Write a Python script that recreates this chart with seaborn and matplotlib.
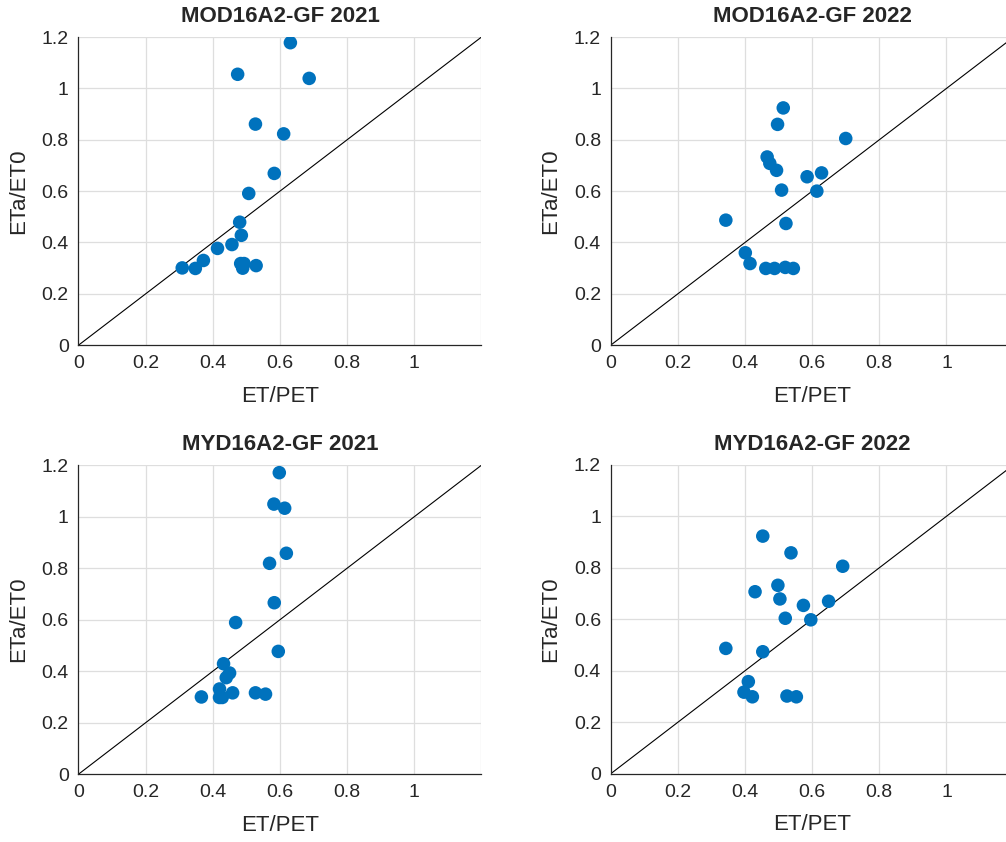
import matplotlib
matplotlib.use("Agg")
import matplotlib.pyplot as plt
import seaborn as sns
import pandas as pd

# MOD16A2-GF 2021
mod21_x = [0.631, 0.474, 0.687, 0.527, 0.611, 0.583, 0.507, 0.480, 0.485, 0.457,
           0.414, 0.372, 0.348, 0.309, 0.483, 0.493, 0.489, 0.529]
mod21_y = [1.178, 1.055, 1.039, 0.861, 0.823, 0.669, 0.591, 0.479, 0.428, 0.392,
           0.377, 0.330, 0.299, 0.301, 0.318, 0.318, 0.300, 0.310]

# MOD16A2-GF 2022
mod22_x = [0.514, 0.497, 0.700, 0.466, 0.474, 0.494, 0.585, 0.628, 0.614, 0.509,
           0.343, 0.522, 0.401, 0.415, 0.462, 0.488, 0.520, 0.544]
mod22_y = [0.924, 0.860, 0.805, 0.733, 0.708, 0.681, 0.656, 0.671, 0.600, 0.604,
           0.487, 0.474, 0.360, 0.318, 0.299, 0.299, 0.303, 0.299]

# MYD16A2-GF 2021
myd21_x = [0.598, 0.582, 0.614, 0.619, 0.569, 0.583, 0.468, 0.595, 0.432, 0.450,
           0.440, 0.420, 0.459, 0.366, 0.420, 0.428, 0.527, 0.557]
myd21_y = [1.171, 1.049, 1.033, 0.858, 0.819, 0.666, 0.589, 0.477, 0.429, 0.393,
           0.375, 0.331, 0.316, 0.300, 0.298, 0.298, 0.316, 0.311]

# MYD16A2-GF 2022
myd22_x = [0.453, 0.537, 0.691, 0.430, 0.498, 0.504, 0.574, 0.649, 0.520, 0.596,
           0.343, 0.453, 0.410, 0.397, 0.422, 0.525, 0.553]
myd22_y = [0.923, 0.858, 0.806, 0.707, 0.732, 0.679, 0.654, 0.670, 0.604, 0.598,
           0.487, 0.474, 0.358, 0.317, 0.299, 0.302, 0.299]

titles = ["MOD16A2-GF 2021", "MOD16A2-GF 2022", "MYD16A2-GF 2021", "MYD16A2-GF 2022"]
xs = [mod21_x, mod22_x, myd21_x, myd22_x]
ys = [mod21_y, mod22_y, myd21_y, myd22_y]

x_ticks = [0, 0.2, 0.4, 0.6, 0.8, 1]
x_tick_labels = ["0", "0.2", "0.4", "0.6", "0.8", "1"]
y_ticks = [0, 0.2, 0.4, 0.6, 0.8, 1, 1.2]
y_tick_labels = ["0", "0.2", "0.4", "0.6", "0.8", "1", "1.2"]

sns.set_style("white")
plt.rcParams['font.family'] = ['Liberation Sans', 'DejaVu Sans']

fig = plt.figure(figsize=(10.06, 8.42), dpi=100)

positions = [
    [0.078, 0.590, 0.4006, 0.366],
    [0.607, 0.590, 0.4006, 0.366],
    [0.078, 0.0805, 0.4006, 0.367],
    [0.607, 0.0810, 0.4006, 0.367],
]

grid_col = "#dedede"

for i in range(4):
    ax = fig.add_axes(positions[i])
    df = pd.DataFrame({"ET/PET": xs[i], "ETa/ET0": ys[i]})
    ax.plot([0, 1.2], [0, 1.2], color="black", lw=0.8, zorder=2)
    sns.scatterplot(data=df, x="ET/PET", y="ETa/ET0", ax=ax, color="#0072BD",
                    s=95, edgecolor="none", zorder=3)
    ax.set_xlim(0, 1.2)
    ax.set_ylim(0, 1.2)
    ax.set_xticks(x_ticks)
    ax.set_xticklabels(x_tick_labels)
    ax.set_yticks(y_ticks)
    ax.set_yticklabels(y_tick_labels)
    # grid lines every 0.2, including the 1.2 edge
    for v in [0.2, 0.4, 0.6, 0.8, 1.0, 1.2]:
        ax.axvline(v, color=grid_col, lw=0.9, zorder=0)
        ax.axhline(v, color=grid_col, lw=0.9, zorder=0)
    ax.spines["top"].set_visible(False)
    ax.spines["right"].set_visible(False)
    for side in ["left", "bottom"]:
        ax.spines[side].set_color("#262626")
        ax.spines[side].set_linewidth(0.9)
    ax.tick_params(direction="in", length=5, width=0.8, colors="#262626",
                   labelsize=14, pad=7)
    ax.set_xlabel("ET/PET", fontsize=16, color="#262626", labelpad=10)
    ax.set_ylabel("ETa/ET0", fontsize=16, color="#262626", labelpad=9)
    ax.set_title(titles[i], fontsize=16, fontweight="bold", pad=11)

fig.savefig("out.png", dpi=100)
